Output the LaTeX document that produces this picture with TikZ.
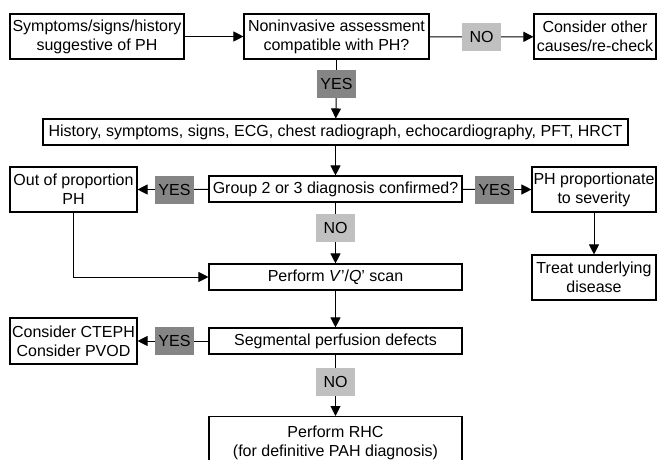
\documentclass[tikz,border=0pt]{standalone}
\usepackage{fontspec}
\setmainfont{Liberation Sans}
\usetikzlibrary{arrows.meta}
\definecolor{yesgray}{HTML}{858585}
\definecolor{nogray}{HTML}{C0C0C0}
\begin{document}
\begin{tikzpicture}[x=1pt,y=-1pt,
  every node/.style={font=\fontsize{16}{19}\selectfont, inner sep=0pt},
  box/.style={draw, line width=1.1pt, align=center, anchor=center},
  yeslab/.style={fill=yesgray, minimum width=39pt, minimum height=28pt},
  nolab/.style={fill=nogray, minimum width=39pt, minimum height=28pt},
  arr/.style={line width=1pt, -{Triangle[length=10pt,width=10pt]}},
  ln/.style={line width=1pt}]
\clip (0,0) rectangle (657,460);
\fill[white] (0,0) rectangle (657,460);
% boxes
\node[box, minimum width=174pt, minimum height=45pt] (s) at (97,36.5) {Symptoms/signs/history\\suggestive of PH};
\node[box, minimum width=185pt, minimum height=45pt] (n) at (336.5,36.5) {Noninvasive assessment\\compatible with PH?};
\node[box, minimum width=122pt, minimum height=45pt] (c) at (595,36.5) {Consider other\\causes/re-check};
\node[box, minimum width=585pt, minimum height=26pt] (h) at (335.5,132) {History, symptoms, signs, ECG, chest radiograph, echocardiography, PFT, HRCT};
\node[box, minimum width=253pt, minimum height=26pt] (g) at (335.5,189) {Group 2 or 3 diagnosis confirmed?};
\node[box, minimum width=127pt, minimum height=45pt] (o) at (73.5,189.5) {Out of proportion\\PH};
\node[box, minimum width=124pt, minimum height=45pt] (p) at (594,189.5) {PH proportionate\\to severity};
\node[box, minimum width=124pt, minimum height=45pt] (t) at (594,277.5) {Treat underlying\\disease};
\node[box, minimum width=253pt, minimum height=26pt] (v) at (335.5,277) {Perform \textit{V}'/\textit{Q}' scan};
\node[box, minimum width=253pt, minimum height=26pt] (d) at (335.5,341) {Segmental perfusion defects};
\node[box, minimum width=127pt, minimum height=46pt] (e) at (73.5,341) {Consider CTEPH\\Consider PVOD};
\node[box, minimum width=253pt, minimum height=52pt, anchor=north] (r) at (335.5,416) {Perform RHC\\(for definitive PAH diagnosis)};
% labels
\node[nolab] (no1) at (481.5,37) {NO};
\node[yeslab] (yes1) at (336.5,84) {YES};
\node[yeslab] (yesl) at (174.5,189.5) {YES};
\node[yeslab] (yesr) at (494.5,189.5) {YES};
\node[nolab] (no2) at (335.5,228) {NO};
\node[yeslab] (yes3) at (174.5,341) {YES};
\node[nolab] (no3) at (335.5,382) {NO};
% connectors
\draw[arr] (s) -- (n);
\draw[ln] (n) -- (no1);
\draw[arr] (no1) -- (c);
\draw[ln] (n) -- (yes1);
\draw[arr] (yes1) -- (h);
\draw[arr] (h) -- (g);
\draw[ln] (g) -- (yesl);
\draw[arr] (yesl) -- (o);
\draw[ln] (g) -- (yesr);
\draw[arr] (yesr) -- (p);
\draw[ln] (g) -- (no2);
\draw[arr] (no2) -- (v);
\draw[arr] (o.south) |- (v.west);
\draw[arr] (p) -- (t);
\draw[arr] (v) -- (d);
\draw[ln] (d) -- (yes3);
\draw[arr] (yes3) -- (e);
\draw[ln] (d) -- (no3);
\draw[arr] (no3) -- (r);
\end{tikzpicture}
\end{document}
